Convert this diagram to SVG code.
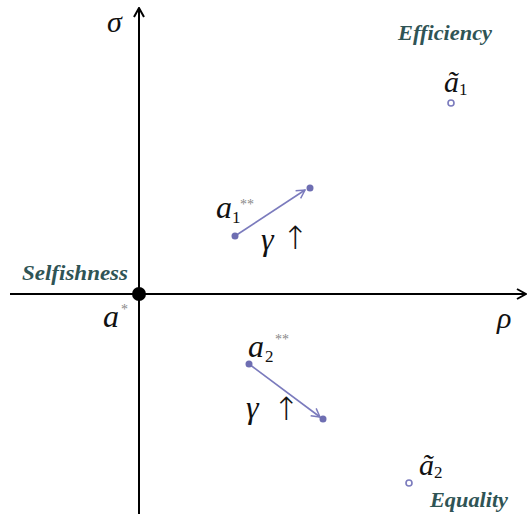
<svg xmlns="http://www.w3.org/2000/svg" width="528" height="514" viewBox="0 0 528 514">
<style>
text{font-family:'Liberation Serif','Times New Roman',serif}
.m{font-style:italic;fill:#111}
.r{fill:#111}
.up{font-family:'DejaVu Sans','Liberation Sans',sans-serif;fill:#111;font-size:32px;font-weight:200}
.st{fill:#888}
.lbl{font-style:italic;font-weight:bold;fill:#2f5455;font-size:20px}
.ax{stroke:#000;stroke-width:2;fill:none}
.vec{stroke:#7b7bbd;stroke-width:1.6;fill:none}
.dot{fill:#6e6eb2}
.hollow{fill:#fff;stroke:#7b7bbd;stroke-width:1.6}
</style>
<defs>
<marker id="axh" viewBox="0 0 12 12" refX="11" refY="6" markerWidth="12" markerHeight="12" markerUnits="userSpaceOnUse" orient="auto">
<path d="M2,1 L11,6 L2,11" stroke="#000" stroke-width="2" fill="none"/>
</marker>
<marker id="vh" viewBox="0 0 12 12" refX="11" refY="6" markerWidth="11" markerHeight="11" markerUnits="userSpaceOnUse" orient="auto">
<path d="M2,1 L11,6 L2,11" stroke="#7b7bbd" stroke-width="1.6" fill="none"/>
</marker>
</defs>
<g id="connectors">
<line class="ax" x1="139" y1="514" x2="139" y2="8" marker-end="url(#axh)"/>
<line class="ax" x1="10" y1="294" x2="526" y2="294" marker-end="url(#axh)"/>
<line class="vec" x1="235" y1="236" x2="305" y2="190" marker-end="url(#vh)"/>
<line class="vec" x1="249" y1="364" x2="320" y2="417" marker-end="url(#vh)"/>
</g>
<g id="axis-labels">
<text class="m" x="107" y="32" font-size="30">σ</text>
<text class="m" x="497" y="328" font-size="30">ρ</text>
</g>
<g id="origin">
<circle cx="139" cy="294" r="7" fill="#000"/>
<text class="lbl" x="22" y="280" textLength="106" lengthAdjust="spacingAndGlyphs">Selfishness</text>
<text class="m" x="103" y="327" font-size="32">a</text>
<text class="st" x="121" y="314" font-size="14">*</text>
</g>
<g id="a1">
<circle class="dot" cx="235" cy="236" r="3.5"/>
<circle class="dot" cx="310" cy="188" r="3.5"/>
<text class="m" x="216" y="218" font-size="32">a</text>
<text class="r" x="232" y="223" font-size="17">1</text>
<text class="st" x="240" y="209" font-size="14">**</text>
<text class="m" x="261" y="250" font-size="32">γ</text>
<text class="up" x="282" y="249">↑</text>
</g>
<g id="a2">
<circle class="dot" cx="249" cy="364" r="3.5"/>
<circle class="dot" cx="323" cy="419" r="3.5"/>
<text class="m" x="248" y="357" font-size="32">a</text>
<text class="r" x="265" y="362" font-size="17">2</text>
<text class="st" x="275" y="344" font-size="14">**</text>
<text class="m" x="246" y="418" font-size="32">γ</text>
<text class="up" x="273" y="420">↑</text>
</g>
<g id="efficiency">
<text class="lbl" x="398" y="40" textLength="94" lengthAdjust="spacingAndGlyphs">Efficiency</text>
<text class="m" x="444" y="92" font-size="30">ã</text>
<text class="r" x="459" y="95" font-size="17">1</text>
<circle class="hollow" cx="451" cy="103" r="3"/>
</g>
<g id="equality">
<text class="m" x="419" y="475" font-size="30">ã</text>
<text class="r" x="434" y="478" font-size="17">2</text>
<circle class="hollow" cx="409" cy="483" r="3"/>
<text class="lbl" x="430" y="507" textLength="78" lengthAdjust="spacingAndGlyphs">Equality</text>
</g>
</svg>
